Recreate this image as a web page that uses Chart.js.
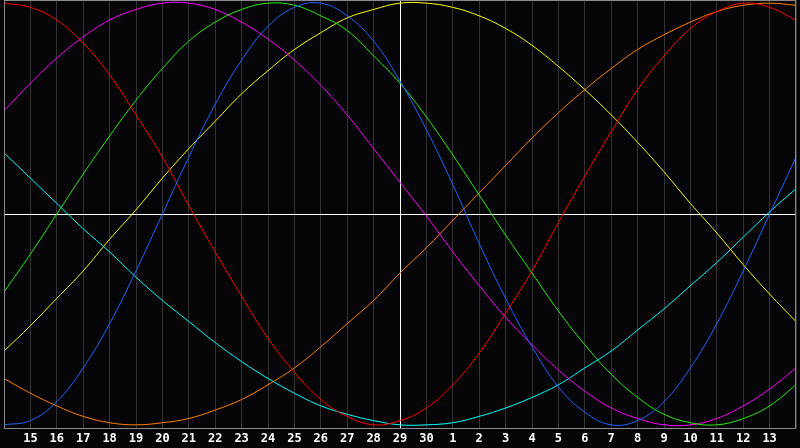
<!DOCTYPE html>
<html lang="en">
<head>
  <meta charset="UTF-8" />
  <title>Biorhythm</title>
  <script src="https://cdn.jsdelivr.net/npm/chart.js"></script>
  <style>
    html, body { margin: 0; padding: 0; background: #050508; }
    #wrap { width: 800px; height: 448px; }
  </style>
</head>
<body>
  <div id="wrap"><canvas id="bio"></canvas></div>

  <script>
    // day labels along the bottom (blank slots are the half-day edges)
    const days = ['', '15', '16', '17', '18', '19', '20', '21', '22', '23', '24', '25', '26', '27', '28', '29', '30',
                  '1', '2', '3', '4', '5', '6', '7', '8', '9', '10', '11', '12', '13', ''];
    const today = '29';

    // values in percent, one per slot above
    const physical = [-100, -98, -89, -73, -52, -27, 0, 27, 52, 73, 89, 98, 100, 94, 82, 63,
                      40, 14, -14, -40, -63, -82, -94, -100, -98, -89, -73, -52, -27, 0, 27];
    const emotional = [100, 98, 92, 81, 66, 47, 27, 4, -18, -39, -59, -75, -88, -96, -100, -98,
                       -92, -81, -66, -47, -27, -4, 18, 39, 59, 75, 88, 96, 100, 98, 92];
    const intellectual = [-37, -19, 0, 19, 37, 54, 69, 82, 91, 97, 100, 99, 94, 87, 75, 62,
                          46, 28, 9, -10, -28, -46, -62, -76, -87, -95, -99, -100, -97, -91, -81];
    const intuitive = [49, 62, 74, 84, 92, 97, 100, 100, 97, 91, 83, 73, 61, 47, 31, 15,
                       -1, -18, -34, -49, -62, -74, -84, -92, -97, -100, -100, -97, -91, -83, -73];
    const aesthetic = [-65, -53, -40, -27, -12, 2, 17, 31, 44, 57, 68, 78, 86, 93, 97, 100,
                       100, 98, 94, 88, 80, 70, 59, 47, 34, 20, 5, -9, -24, -38, -51];
    const awareness = [-78, -85, -91, -96, -99, -100, -99, -97, -93, -88, -81, -73, -63, -52, -41, -28,
                       -16, -3, 10, 23, 36, 48, 59, 69, 78, 85, 91, 96, 99, 100, 99];
    const spiritual = [29, 17, 5, -7, -18, -30, -41, -51, -61, -70, -78, -85, -91, -95, -98, -100,
                       -100, -99, -96, -92, -87, -81, -73, -65, -55, -45, -34, -23, -11, 1, 12];

    const series = [
      { label: 'Physical', data: physical, color: '#1e64ff' },
      { label: 'Emotional', data: emotional, color: '#ff0000' },
      { label: 'Intellectual', data: intellectual, color: '#22f000' },
      { label: 'Intuitive', data: intuitive, color: '#ff00ff' },
      { label: 'Aesthetic', data: aesthetic, color: '#ffff00' },
      { label: 'Awareness', data: awareness, color: '#ff8000' },
      { label: 'Spiritual', data: spiritual, color: '#00ffff' }
    ];

    // grey frame round the plot
    const frame = {
      id: 'frame',
      afterDraw(chart) {
        const { ctx, chartArea: a } = chart;
        ctx.save();
        ctx.strokeStyle = '#8a8a8a';
        ctx.lineWidth = 1;
        ctx.strokeRect(a.left + 0.5, a.top + 0.5, a.right - a.left - 1, a.bottom - a.top);
        ctx.restore();
      }
    };

    new Chart(document.getElementById('bio'), {
      type: 'line',
      data: {
        labels: days,
        datasets: series.map(s => ({
          label: s.label,
          data: s.data,
          borderColor: s.color,
          borderWidth: 1,
          pointRadius: 0,
          tension: 0.4,
          fill: false
        }))
      },
      options: {
        responsive: true,
        maintainAspectRatio: false,
        animation: false,
        layout: { padding: 0 },
        plugins: {
          legend: { display: false },
          tooltip: { enabled: false }
        },
        scales: {
          x: {
            type: 'category',
            offset: false,
            afterFit: s => { s.height = 20; },
            border: { display: false },
            grid: {
              drawTicks: false,
              lineWidth: 1,
              color: c => c.index === days.indexOf(today) ? '#ffffff' : '#343434'
            },
            ticks: {
              autoSkip: false,
              maxRotation: 0,
              padding: 4,
              color: '#ffffff',
              font: { family: 'DejaVu Sans Mono', size: 12, weight: 'bold' }
            }
          },
          y: {
            min: -101.5,
            max: 101.5,
            afterFit: s => { s.width = 0; },
            afterBuildTicks: s => { s.ticks = [{ value: 0 }]; },
            border: { display: false },
            grid: { drawTicks: false, color: '#ffffff', lineWidth: 1 },
            ticks: { display: false }
          }
        }
      },
      plugins: [frame]
    });
  </script>
</body>
</html>
